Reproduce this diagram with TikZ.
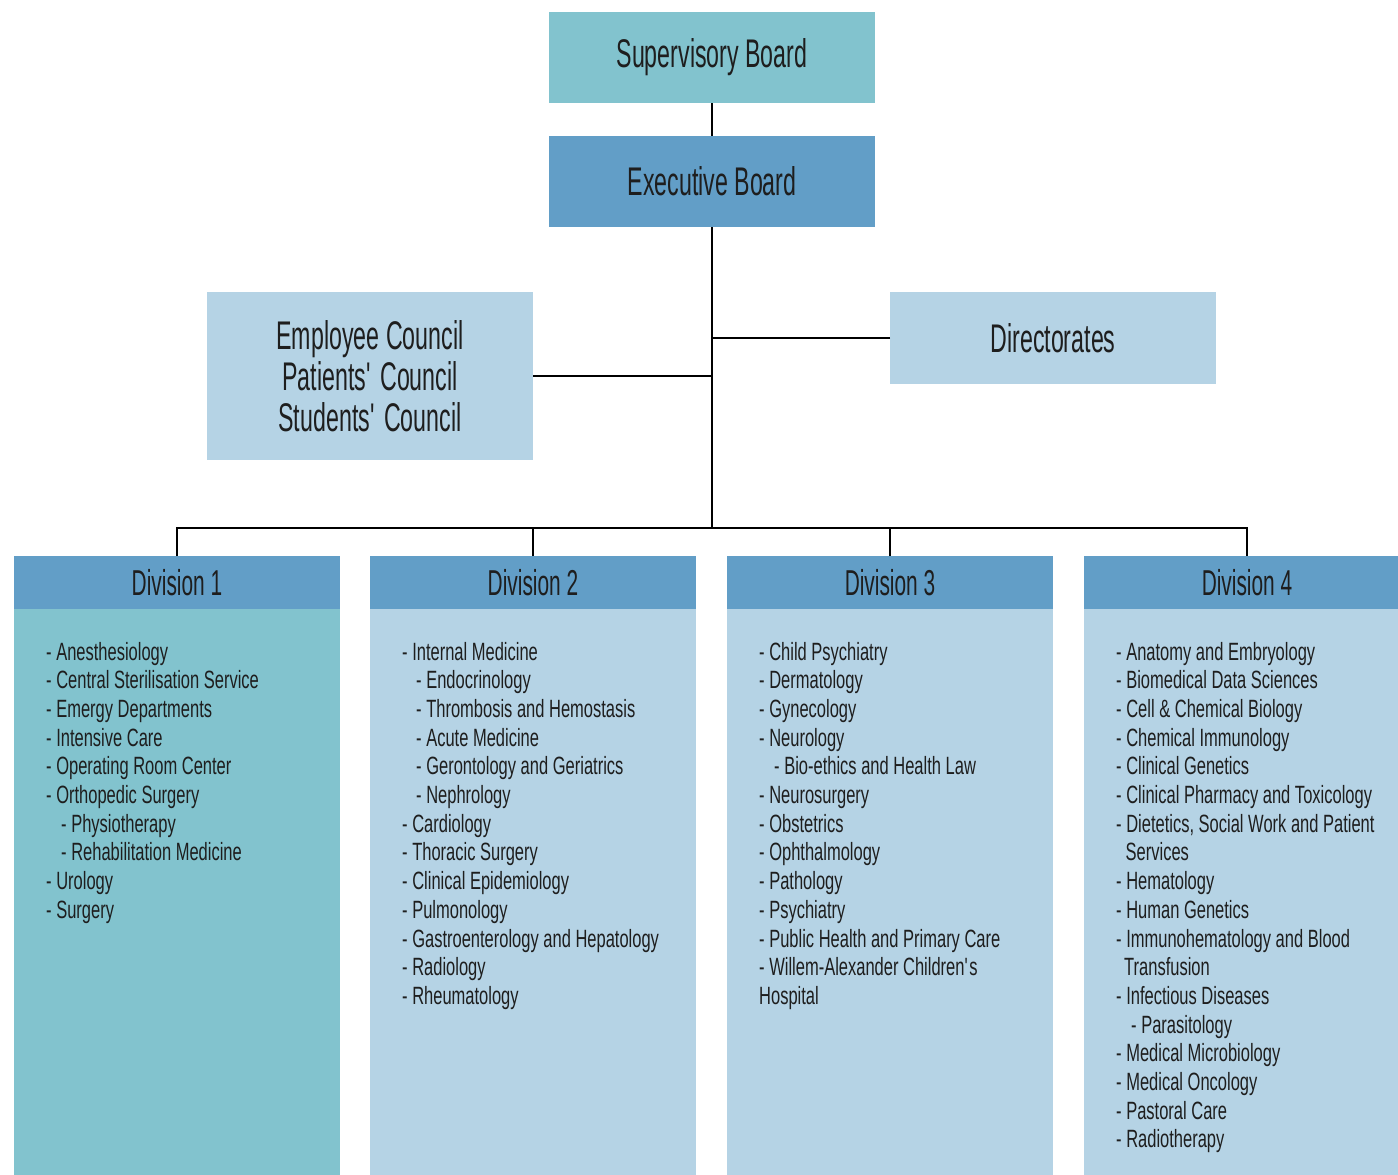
\documentclass[tikz,border=0pt]{standalone}
\usepackage{fontspec}
\setmainfont{Liberation Sans}[FakeStretch=0.66]
\newfontfamily\headfont{Liberation Sans}[FakeStretch=0.58]

\definecolor{tealbox}{HTML}{82C3CE}
\definecolor{midblue}{HTML}{629EC7}
\definecolor{paleblue}{HTML}{B5D3E5}
\definecolor{inkgray}{HTML}{1E1E1E}

% one department list: node prefix, left x, list of indent/text pairs
\newcommand\deptlist[3]{%
  \foreach \ind/\txt [count=\n] in {#3}{%
    \node[dept] (#1-\n) at ({#2+\ind},{660+(\n-1)*28.7}) {\txt};
  }%
}

\begin{document}
\begin{tikzpicture}[x=1pt,y=-1pt,
  orgbox/.style={draw=none, inner sep=0pt, outer sep=0pt, text=inkgray,
    minimum width=326pt},
  titletext/.style={font=\headfont\fontsize{40}{41}\selectfont},
  headtext/.style={font=\headfont\fontsize{36}{40}\selectfont},
  dept/.style={anchor=base west, inner sep=0pt, text=inkgray,
    font=\fontsize{25}{28.7}\selectfont},
  link/.style={draw=black, line width=2.2pt}
]
\useasboundingbox (0,0) rectangle (1398,1175);
\fill[white] (0,0) rectangle (1398,1175);

% governing boards
\node[orgbox, titletext, fill=tealbox, minimum height=91pt]
  (sup) at (712,57.5) {Supervisory Board};
\node[orgbox, titletext, fill=midblue, minimum height=91pt]
  (exec) at (712,181.5) {Executive Board};
\node[orgbox, titletext, fill=paleblue, minimum height=168pt, align=center]
  (council) at (370,376) {Employee Council\\Patients\textquotesingle\ Council\\Students\textquotesingle\ Council};
\node[orgbox, titletext, fill=paleblue, minimum height=92pt]
  (dir) at (1053,338) {Directorates};

% division headers
\foreach \cx/\k in {177/1, 533/2, 890/3, 1247/4}{
  \node[orgbox, headtext, fill=midblue, minimum height=53pt, anchor=north]
    (h\k) at (\cx,556) {Division \k};
}
% division bodies
\node[orgbox, fill=tealbox, minimum height=570pt, anchor=north] (b1) at (177,609) {};
\node[orgbox, fill=paleblue, minimum height=570pt, anchor=north] (b2) at (533,609) {};
\node[orgbox, fill=paleblue, minimum height=570pt, anchor=north] (b3) at (890,609) {};
\node[orgbox, fill=paleblue, minimum height=570pt, anchor=north] (b4) at (1247,609) {};

% connectors
\coordinate (bus) at (712,528);
\draw[link] (sup) -- (exec);
\draw[link] (exec) -- (bus);
\draw[link] (dir.west) -- (dir.west -| exec.south);
\draw[link] (council.east) -- (council.east -| exec.south);
\draw[link] (h1.north) -- (h1.north |- bus) -| (h4.north);
\draw[link] (h2.north) -- (h2.north |- bus);
\draw[link] (h3.north) -- (h3.north |- bus);

% department lists
\deptlist{da}{46}{0/{- Anesthesiology}, 0/{- Central Sterilisation Service},
  0/{- Emergy Departments}, 0/{- Intensive Care}, 0/{- Operating Room Center},
  0/{- Orthopedic Surgery}, 15/{- Physiotherapy}, 15/{- Rehabilitation Medicine},
  0/{- Urology}, 0/{- Surgery}}

\deptlist{db}{402}{0/{- Internal Medicine}, 14/{- Endocrinology},
  14/{- Thrombosis and Hemostasis}, 14/{- Acute Medicine},
  14/{- Gerontology and Geriatrics}, 14/{- Nephrology}, 0/{- Cardiology},
  0/{- Thoracic Surgery}, 0/{- Clinical Epidemiology}, 0/{- Pulmonology},
  0/{- Gastroenterology and Hepatology}, 0/{- Radiology}, 0/{- Rheumatology}}

\deptlist{dc}{759}{0/{- Child Psychiatry}, 0/{- Dermatology}, 0/{- Gynecology},
  0/{- Neurology}, 15/{- Bio-ethics and Health Law}, 0/{- Neurosurgery},
  0/{- Obstetrics}, 0/{- Ophthalmology}, 0/{- Pathology}, 0/{- Psychiatry},
  0/{- Public Health and Primary Care}, 0/{- Willem-Alexander Children\textquotesingle s},
  0/{Hospital}}

\deptlist{dd}{1116}{0/{- Anatomy and Embryology}, 0/{- Biomedical Data Sciences},
  0/{- Cell \& Chemical Biology}, 0/{- Chemical Immunology},
  0/{- Clinical Genetics}, 0/{- Clinical Pharmacy and Toxicology},
  0/{- Dietetics, Social Work and Patient}, 9.5/{Services},
  0/{- Hematology}, 0/{- Human Genetics}, 0/{- Immunohematology and Blood},
  8/{Transfusion}, 0/{- Infectious Diseases}, 15/{- Parasitology},
  0/{- Medical Microbiology}, 0/{- Medical Oncology}, 0/{- Pastoral Care},
  0/{- Radiotherapy}}
\end{tikzpicture}
\end{document}
